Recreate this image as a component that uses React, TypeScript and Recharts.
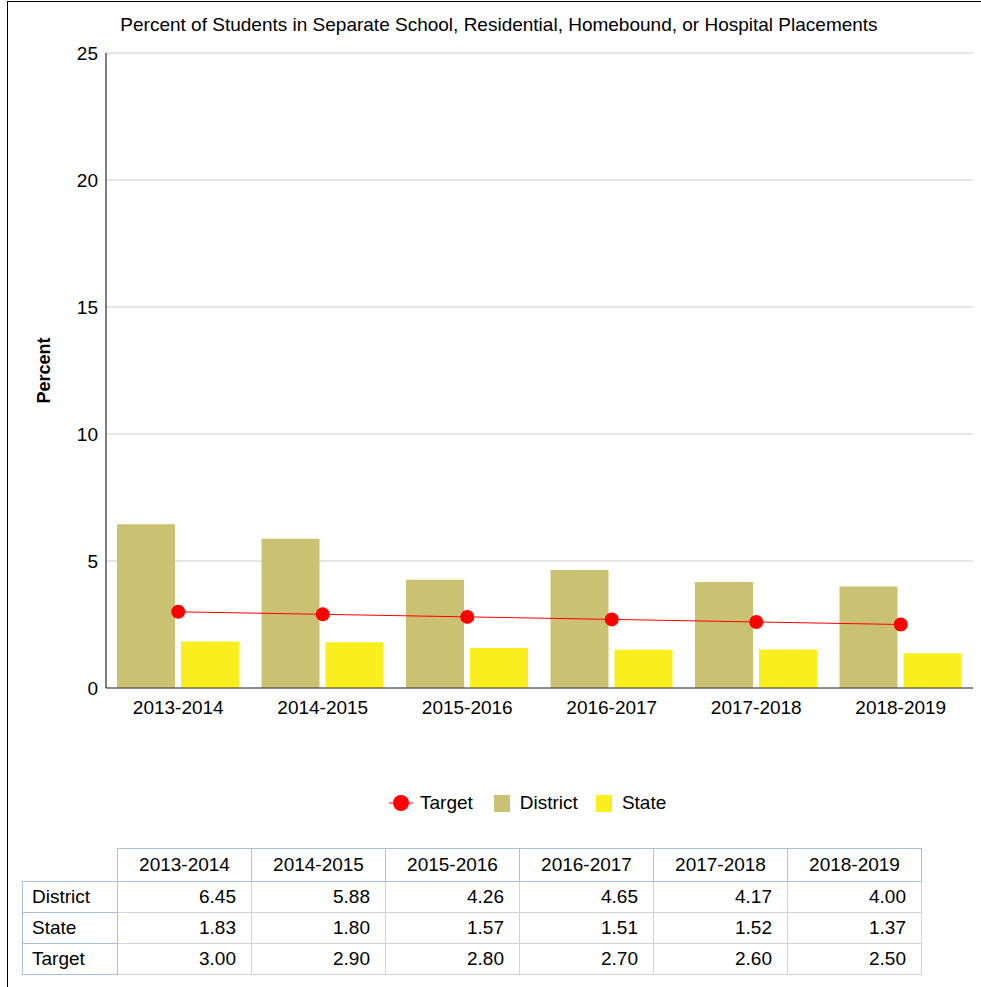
import React from 'react';
import { ComposedChart, Bar, Line, XAxis, YAxis, CartesianGrid, Label } from 'recharts';

const years = ['2013-2014', '2014-2015', '2015-2016', '2016-2017', '2017-2018', '2018-2019'];
const districtValues = [6.45, 5.88, 4.26, 4.65, 4.17, 4.0];
const stateValues = [1.83, 1.8, 1.57, 1.51, 1.52, 1.37];
const targetValues = [3.0, 2.9, 2.8, 2.7, 2.6, 2.5];
const yTicks = [0, 5, 10, 15, 20, 25];

const DISTRICT_COLOR = '#CBC172';
const STATE_COLOR = '#F9EE1E';
const TARGET_COLOR = '#FF0000';
const HEAD_BORDER = '1px solid #A9C0DD';
const CELL_BORDER = '1px solid #D3D3D3';
const FONT = 'Arial, "Liberation Sans", sans-serif';

const chartData = years.map((year, i) => ({
  year,
  district: districtValues[i],
  state: stateValues[i],
  target: targetValues[i],
}));

const tableRows = [
  { name: 'District', values: districtValues },
  { name: 'State', values: stateValues },
  { name: 'Target', values: targetValues },
];

function ChartLegend() {
  return (
    <div style={{ position: 'absolute', left: 389, top: 793, height: 20, display: 'flex', alignItems: 'center', fontSize: 19, lineHeight: '20px' }}>
      <svg width={24} height={20} style={{ marginRight: 7 }}>
        <line x1={0} y1={10} x2={24} y2={10} stroke={TARGET_COLOR} strokeWidth={1} />
        <circle cx={12} cy={10} r={8} fill={TARGET_COLOR} />
      </svg>
      <span>Target</span>
      <span style={{ width: 16, height: 17, background: DISTRICT_COLOR, marginLeft: 21, marginRight: 10 }} />
      <span>District</span>
      <span style={{ width: 16, height: 17, background: STATE_COLOR, marginLeft: 18, marginRight: 10 }} />
      <span>State</span>
    </div>
  );
}

function DataTable() {
  const cell: React.CSSProperties = { height: 30, padding: '0 15px 0 0', border: CELL_BORDER, textAlign: 'right' };
  return (
    <table style={{ position: 'absolute', left: 22, top: 848, width: 899, tableLayout: 'fixed', borderCollapse: 'collapse', fontSize: 19 }}>
      <colgroup>
        <col style={{ width: 95 }} />
        {years.map(y => <col key={y} style={{ width: 134 }} />)}
      </colgroup>
      <thead>
        <tr>
          <th style={{ height: 30, border: 'none' }} />
          {years.map(y => (
            <th key={y} style={{ height: 30, border: HEAD_BORDER, fontWeight: 'normal', textAlign: 'center', padding: 0 }}>{y}</th>
          ))}
        </tr>
      </thead>
      <tbody>
        {tableRows.map(row => (
          <tr key={row.name}>
            <td style={{ ...cell, border: HEAD_BORDER, textAlign: 'left', padding: '0 0 0 9px' }}>{row.name}</td>
            {row.values.map((v, i) => (
              <td key={years[i]} style={cell}>{v.toFixed(2)}</td>
            ))}
          </tr>
        ))}
      </tbody>
    </table>
  );
}

export default function App() {
  return (
    <div style={{ position: 'relative', width: 981, height: 987, fontFamily: FONT, color: '#000', background: '#fff', overflow: 'hidden' }}>
      <style>{'body{margin:0}'}</style>
      <div style={{ position: 'absolute', left: 7, top: 1, width: 974, height: 986, borderTop: '1px solid #000', borderLeft: '1px solid #000' }} />
      <div style={{ position: 'absolute', left: 0, top: 14, width: 998, textAlign: 'center', fontSize: 19, lineHeight: '22px', whiteSpace: 'nowrap' }}>
        Percent of Students in Separate School, Residential, Homebound, or Hospital Placements
      </div>
      <div style={{ position: 'absolute', left: 0, top: 0 }}>
        <ComposedChart width={981} height={718} data={chartData} margin={{ top: 53, right: 8, left: 0, bottom: 0 }} barCategoryGap={11} barGap={6}>
          <CartesianGrid vertical={false} stroke="#CCCCCC" />
          <XAxis dataKey="year" interval={0} tickLine={false} axisLine={{ stroke: '#333' }} tick={{ fill: '#000', fontSize: 19 }} tickMargin={7} />
          <YAxis width={106} domain={[0, 25]} ticks={yTicks} tickLine={false} axisLine={{ stroke: '#000' }} tick={{ fill: '#000', fontSize: 19 }}>
            <Label value="Percent" angle={-90} position="insideLeft" offset={44} style={{ textAnchor: 'middle', fontWeight: 'bold', fontSize: 18, fill: '#000' }} />
          </YAxis>
          <Bar dataKey="district" name="District" fill={DISTRICT_COLOR} isAnimationActive={false} />
          <Bar dataKey="state" name="State" fill={STATE_COLOR} isAnimationActive={false} />
          <Line dataKey="target" name="Target" stroke={TARGET_COLOR} strokeWidth={1} dot={{ r: 7, fill: TARGET_COLOR, stroke: TARGET_COLOR, strokeWidth: 0 }} isAnimationActive={false} />
        </ComposedChart>
      </div>
      <ChartLegend />
      <DataTable />
    </div>
  );
}
